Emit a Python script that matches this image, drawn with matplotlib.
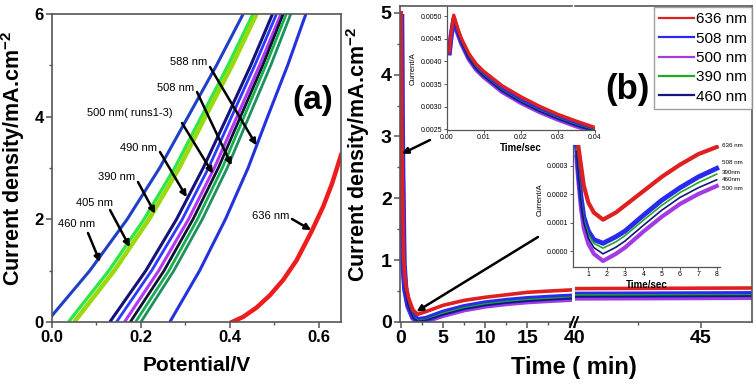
import matplotlib
matplotlib.use('Agg')
import matplotlib.pyplot as plt
from matplotlib.lines import Line2D
from matplotlib.ticker import MultipleLocator, FormatStrFormatter

####################################################################################

plt.rcParams['font.family'] = ['Liberation Sans', 'DejaVu Sans']
plt.rcParams['mathtext.fontset'] = 'custom'
plt.rcParams['mathtext.rm'] = 'Liberation Sans'
plt.rcParams['mathtext.bf'] = 'Liberation Sans:bold'

W, H = 756, 387
SPINE_RGB = '#555555'

# ---- panel (a): J-V curves, x values read at current densities 0..6 ----
jv_levels = [0, 1, 2, 3, 4, 5, 6]
jv_curves = [
    ('460 nm', '#1f3fc8', 2.2, [-0.012, 0.085, 0.169, 0.242, 0.306, 0.370, 0.430]),
    ('405 nm', '#2ee84a', 2.4, [0.037, 0.128, 0.207, 0.276, 0.336, 0.396, 0.452]),
    ('390 nm', '#9bd80c', 3.2, [0.050, 0.140, 0.218, 0.286, 0.345, 0.405, 0.460]),
    ('490 nm', '#12127a', 2.2, [0.130, 0.211, 0.280, 0.340, 0.394, 0.447, 0.496]),
    ('blue',   '#2a3aff', 2.0, [0.145, 0.224, 0.293, 0.352, 0.404, 0.456, 0.505]),
    ('500 nm', '#b536f5', 2.2, [0.163, 0.240, 0.307, 0.365, 0.416, 0.467, 0.515]),
    ('black',  '#111133', 2.0, [0.176, 0.252, 0.317, 0.374, 0.424, 0.474, 0.520]),
    ('green',  '#16b04e', 2.0, [0.188, 0.263, 0.327, 0.383, 0.432, 0.481, 0.527]),
    ('508 nm', '#1f8f60', 2.0, [0.200, 0.274, 0.338, 0.394, 0.443, 0.492, 0.537]),
    ('588 nm', '#2233dd', 2.2, [0.265, 0.332, 0.390, 0.441, 0.485, 0.530, 0.571]),
]
red_v = [0.405, 0.43, 0.46, 0.49, 0.52, 0.55, 0.583, 0.61, 0.63, 0.65]
red_j = [0.0, 0.10, 0.28, 0.52, 0.82, 1.20, 1.75, 2.25, 2.70, 3.25]

# label text (pixel centre), arrow tail (pixel), arrow head (data)
a_labels = [
    ('588 nm', (189, 62), (210, 67), (0.460, 3.44)),
    ('508 nm', (176, 88), (197, 92), (0.404, 3.05)),
    ('500 nm( runs1-3)', (130, 113), (182, 123), (0.362, 2.89)),
    ('490 nm', (139, 148), (160, 152), (0.303, 2.43)),
    ('390 nm', (117, 177), (138, 182), (0.232, 2.11)),
    ('405 nm', (95, 203), (110, 210), (0.175, 1.46)),
    ('460 nm', (77, 224), (88, 233), (0.108, 1.17)),
    ('636 nm', (271, 216), (292, 219), (0.583, 1.79)),
]

# ---- panel (b): chronoamperometry, minutes ----
t_b = [0.02, 0.08, 0.15, 0.3, 0.5, 0.87, 1.44, 2.0, 3.0, 5.0, 7.5, 10.0, 12.5, 15.0, 17.5, 20.4]
t_b2 = [40.0, 47.1]
b_series = [
    ('500 nm', '#a23ce0', 4.0,
     [4.90, 3.35, 2.35, 0.90, 0.50, 0.24, 0.06, 0.00, 0.02, 0.11, 0.20, 0.26, 0.30, 0.33, 0.35, 0.37], [0.39, 0.40]),
    ('508 nm', '#2a2aee', 4.5,
     [4.93, 3.40, 2.40, 0.95, 0.55, 0.28, 0.09, 0.03, 0.05, 0.15, 0.24, 0.30, 0.34, 0.37, 0.39, 0.41], [0.44, 0.45]),
    ('390 nm', '#22aa22', 1.2,
     [4.92, 3.38, 2.38, 0.93, 0.53, 0.26, 0.08, 0.02, 0.04, 0.14, 0.23, 0.29, 0.33, 0.36, 0.38, 0.40], [0.43, 0.43]),
    ('460 nm', '#161680', 1.2,
     [4.91, 3.36, 2.36, 0.91, 0.51, 0.25, 0.07, 0.01, 0.03, 0.12, 0.21, 0.27, 0.31, 0.34, 0.36, 0.385], [0.41, 0.42]),
    ('636 nm', '#e02020', 2.6,
     [5.00, 3.50, 2.50, 1.05, 0.65, 0.40, 0.19, 0.125, 0.17, 0.27, 0.35, 0.40, 0.44, 0.48, 0.50, 0.52], [0.54, 0.55]),
]
legend_order = ['636 nm', '508 nm', '500 nm', '390 nm', '460 nm']

# ---- inset 1: first 0.04 s ----
t_i1 = [0.0007, 0.0012, 0.0019, 0.003, 0.004, 0.006, 0.008, 0.01, 0.015, 0.02, 0.025, 0.03, 0.035, 0.04]
i1_series = [
    ('#a23ce0', 3.5, [0.00418, 0.00455, 0.00490, 0.00461, 0.00439, 0.00405, 0.00382, 0.00366, 0.00333, 0.00309, 0.00289, 0.00272, 0.00257, 0.00245]),
    ('#2a2aee', 3.5, [0.00420, 0.00458, 0.00494, 0.00465, 0.00443, 0.00409, 0.00386, 0.00370, 0.00337, 0.00313, 0.00293, 0.00276, 0.00261, 0.00248]),
    ('#22aa22', 1.0, [0.00419, 0.00457, 0.00492, 0.00463, 0.00441, 0.00407, 0.00384, 0.00368, 0.00335, 0.00311, 0.00291, 0.00274, 0.00259, 0.00247]),
    ('#161680', 1.0, [0.00419, 0.00456, 0.00491, 0.00462, 0.00440, 0.00406, 0.00383, 0.00367, 0.00334, 0.00310, 0.00290, 0.00273, 0.00258, 0.00246]),
    ('#e02020', 2.4, [0.00422, 0.00462, 0.00502, 0.00472, 0.00450, 0.00417, 0.00394, 0.00378, 0.00346, 0.00322, 0.00301, 0.00283, 0.00268, 0.00254]),
]

# ---- inset 2: first 8 s ----
t_i2 = [0.35, 0.45, 0.6, 0.75, 1.0, 1.3, 1.8, 2.5, 3.0, 4.0, 5.0, 6.0, 7.0, 8.0]
i2_series = [
    ('#a23ce0', 3.0, [0.00033, 0.00025, 0.00015, 0.00008, 0.000025, -0.00001, -0.000035, -0.00001, 0.000012, 0.000068, 0.00012, 0.000165, 0.0002, 0.000228]),
    ('#2a2aee', 3.5, [0.00037, 0.00029, 0.00019, 0.00012, 0.00007, 0.00004, 0.000027, 0.00005, 0.00007, 0.000125, 0.000178, 0.000222, 0.00026, 0.00029]),
    ('#22aa22', 1.2, [0.00036, 0.00028, 0.00018, 0.00011, 0.000057, 0.000027, 0.00001, 0.000032, 0.000054, 0.000108, 0.00016, 0.000205, 0.00024, 0.00027]),
    ('#161680', 1.2, [0.00035, 0.00027, 0.00017, 0.0001, 0.000045, 0.000012, -0.00001, 0.000013, 0.000035, 0.00009, 0.000143, 0.000188, 0.000222, 0.00025]),
    ('#e02020', 3.0, [0.00045, 0.00037, 0.00030, 0.00023, 0.00017, 0.000135, 0.00011, 0.000135, 0.00016, 0.00021, 0.00026, 0.000303, 0.00034, 0.000365]),
]
i2_labels = [('636 nm', 145), ('508 nm', 162), ('390nm', 172), ('460nm', 180), ('500 nm', 188)]

####################################################################################

def box(l, t, r, b):
    return [l / W, 1 - b / H, (r - l) / W, (b - t) / H]

def fpx(x, y):
    return (x / W, 1 - y / H)

def style_spines(ax, width=1.2):
    for s in ax.spines.values():
        s.set_color(SPINE_RGB)
        s.set_linewidth(width)

def style_ticks(ax, size):
    ax.tick_params(which='major', direction='out', length=4, width=1.1, color=SPINE_RGB, labelsize=size, pad=2)
    ax.tick_params(which='minor', direction='out', length=2.5, width=1.0, color=SPINE_RGB)
    for lab in ax.get_xticklabels() + ax.get_yticklabels():
        lab.set_fontweight('bold')

ARROW = dict(arrowstyle='-|>', color='black', lw=1.8, mutation_scale=9, shrinkA=0, shrinkB=0)

####################################################################################

fig = plt.figure(figsize=(W / 100, H / 100), dpi=100)

# ---------------- panel (a) ----------------
ax_a = fig.add_axes(box(52, 14, 341, 322))
for name, col, lw, xs in jv_curves:
    ax_a.plot(xs, jv_levels, color=col, lw=lw, solid_capstyle='butt')
ax_a.plot(red_v, red_j, color='#ee1c1c', lw=3.2)
ax_a.set_xlim(0, 0.65)
ax_a.set_ylim(0, 6)
ax_a.xaxis.set_major_locator(MultipleLocator(0.2))
ax_a.xaxis.set_minor_locator(MultipleLocator(0.1))
ax_a.xaxis.set_major_formatter(FormatStrFormatter('%.1f'))
ax_a.yaxis.set_major_locator(MultipleLocator(2))
ax_a.yaxis.set_minor_locator(MultipleLocator(1))
ax_a.tick_params(right=False, top=False)
style_spines(ax_a)
style_ticks(ax_a, 12)
ax_a.set_xlabel('Potential/V', fontsize=15, fontweight='bold')
ax_a.xaxis.set_label_coords(0.5, -0.112)
ax_a.xaxis.label.set_va('top')
ax_a.set_ylabel(r'Current density/mA.cm$^{\mathbf{-2}}$', fontsize=15.5, fontweight='bold')
ax_a.yaxis.set_label_coords(-0.085, 0.53)

for text, tpos, tail, head in a_labels:
    fig.text(*fpx(*tpos), text, fontsize=8, ha='center', va='center')
    ax_a.annotate('', xy=head, xycoords='data', xytext=fpx(*tail), textcoords='figure fraction',
                  arrowprops=ARROW)
fig.text(*fpx(313, 101), '(a)', fontsize=24, fontweight='bold', ha='center', va='center')

# ---------------- panel (b) ----------------
ax_b1 = fig.add_axes(box(400, 6, 572, 322))
ax_b2 = fig.add_axes(box(575, 6, 752, 322))
handles = {}
for name, col, lw, ys, ys2 in b_series:
    ax_b1.plot(t_b, ys, color=col, lw=lw)
    ax_b2.plot(t_b2, ys2, color=col, lw=lw)
    handles[name] = Line2D([], [], color=col, lw=1.6)

ax_b1.set_xlim(-0.12, 20.3)
ax_b2.set_xlim(40, 47.02)
for ax in (ax_b1, ax_b2):
    ax.set_ylim(0, 5.11)
    style_spines(ax)
ax_b1.xaxis.set_major_locator(MultipleLocator(5))
ax_b1.xaxis.set_minor_locator(MultipleLocator(2.5))
ax_b1.set_xticks([0, 5, 10, 15])
ax_b1.yaxis.set_major_locator(MultipleLocator(1))
ax_b1.yaxis.set_minor_locator(MultipleLocator(0.5))
ax_b2.xaxis.set_major_locator(MultipleLocator(5))
ax_b2.xaxis.set_minor_locator(MultipleLocator(2.5))
ax_b1.spines['right'].set_visible(False)
ax_b2.spines['left'].set_visible(False)
ax_b1.tick_params(right=False, top=False)
ax_b2.tick_params(which='both', left=False, labelleft=False, right=False, top=False)
style_ticks(ax_b1, 14)
style_ticks(ax_b2, 14)
ax_b2.tick_params(which='both', left=False)

ax_b1.set_ylabel(r'Current density/mA.cm$^{\mathbf{-2}}$', fontsize=15.5, fontweight='bold')
ax_b1.yaxis.set_label_coords(-0.165, 0.53)
fig.text(*fpx(574, 356), 'Time ( min)', fontsize=17, fontweight='bold', ha='center', va='top')

# axis break marks
for x0 in (570, 574):
    fig.add_artist(Line2D([x0 / W, (x0 + 4) / W], [1 - 327 / H, 1 - 317 / H], color='black', lw=1.4))

ax_b1.annotate('', xy=(0.1, 2.72), xycoords='data', xytext=fpx(430, 140), textcoords='figure fraction',
               arrowprops=ARROW)
ax_b1.annotate('', xy=(1.85, 0.17), xycoords='data', xytext=fpx(538, 237), textcoords='figure fraction',
               arrowprops=ARROW)

leg = fig.legend([handles[n] for n in legend_order], legend_order, loc='upper right',
                 bbox_to_anchor=fpx(752, 7), fontsize=11, handlelength=2.3, handletextpad=0.1,
                 labelspacing=0.35, borderaxespad=0, borderpad=0.35, fancybox=False, frameon=True)
leg.get_frame().set_edgecolor('#888888')
leg.get_frame().set_linewidth(1.0)

fig.text(*fpx(627, 89), '(b)', fontsize=25, fontweight='bold', ha='center', va='center')

# ---------------- inset 1 ----------------
ins1 = fig.add_axes(box(446.7, 7, 595, 130))
ins1.patch.set_alpha(0)
for col, lw, ys in i1_series:
    ins1.plot(t_i1, ys, color=col, lw=lw)
ins1.set_xlim(0, 0.04)
ins1.set_ylim(0.002485, 0.0052)
ins1.xaxis.set_major_locator(MultipleLocator(0.01))
ins1.xaxis.set_major_formatter(FormatStrFormatter('%.2f'))
ins1.yaxis.set_major_locator(MultipleLocator(0.0005))
ins1.yaxis.set_major_formatter(FormatStrFormatter('%.4f'))
ins1.spines['top'].set_visible(False)
ins1.spines['right'].set_visible(False)
style_spines(ins1, 0.9)
ins1.tick_params(direction='out', length=2, width=0.7, labelsize=5, pad=1, color=SPINE_RGB)
ins1.set_xlabel('Time/sec', fontsize=7, fontweight='bold', labelpad=1)
ins1.set_ylabel('Current/A', fontsize=5.5, labelpad=1)
ins1.yaxis.set_label_coords(-0.2, 0.5)

# ---------------- inset 2 ----------------
ins2 = fig.add_axes(box(572.7, 145, 720, 267.3))
ins2.patch.set_alpha(0)
for col, lw, ys in i2_series:
    ins2.plot(t_i2, ys, color=col, lw=lw)
ins2.set_xlim(0.147, 8.18)
ins2.set_ylim(-0.0000572, 0.000372)
ins2.xaxis.set_major_locator(MultipleLocator(1))
ins2.set_xticks(range(1, 9))
ins2.yaxis.set_major_locator(MultipleLocator(0.0001))
ins2.yaxis.set_major_formatter(FormatStrFormatter('%.4f'))
ins2.spines['top'].set_visible(False)
ins2.spines['right'].set_visible(False)
style_spines(ins2, 0.9)
ins2.tick_params(direction='out', length=2, width=0.7, labelsize=5, pad=1, color=SPINE_RGB)
ins2.set_xlabel('Time/sec', fontsize=7, fontweight='bold', labelpad=1)
ins2.set_ylabel('Current/A', fontsize=5.5, labelpad=1)
ins2.yaxis.set_label_coords(-0.2, 0.55)
for text, ypx in i2_labels:
    fig.text(*fpx(722, ypx), text, fontsize=4.5, ha='left', va='center')

plt.savefig('out.png', dpi=100)
